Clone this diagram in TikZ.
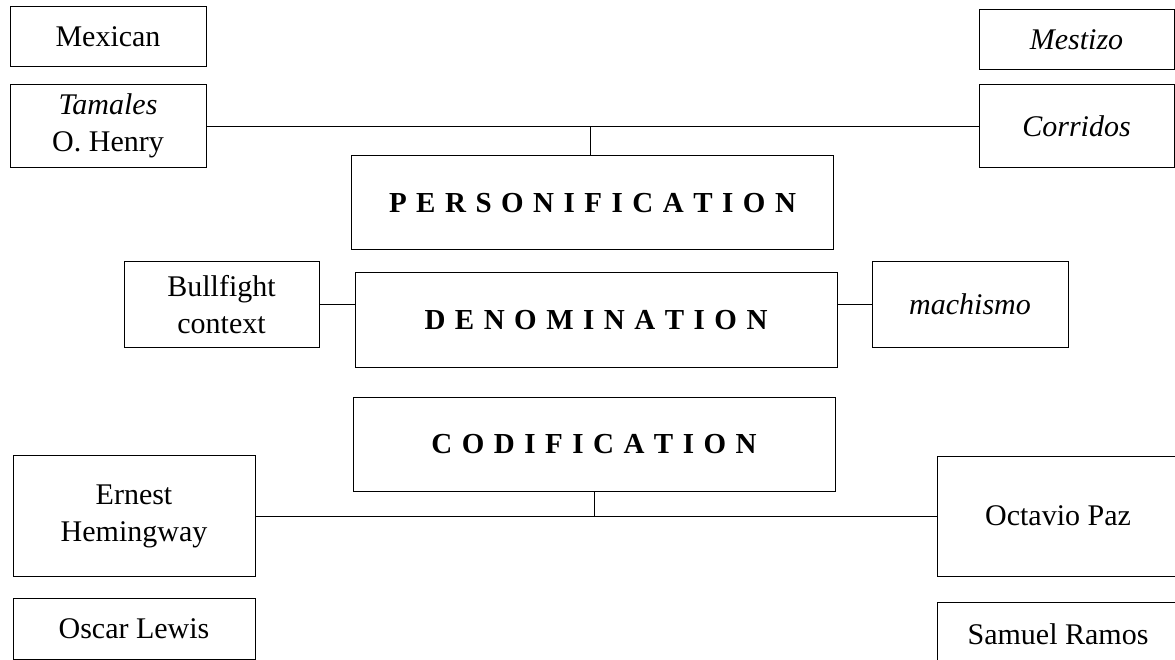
\documentclass[tikz,border=0pt]{standalone}
\usepackage{fontspec}
\setmainfont{Liberation Serif}
\newcommand{\widecaps}{\spaceskip 9.5pt\relax}
\begin{document}
\begin{tikzpicture}[x=1pt,y=-1pt]

      \useasboundingbox (0,0) rectangle (1175,660);

      \begin{scope}[every node/.style={rectangle,draw,line width=1pt,inner sep=0pt,align=center,
          font=\fontsize{30}{37}\selectfont}]
        \node[minimum width=196pt,minimum height=60pt] (mexican)  at (108,37)    {Mexican};
        \node[minimum width=196pt,minimum height=83pt] (tamales)  at (108,126)   {\textit{Tamales}\\O. Henry};
        \node[minimum width=195pt,minimum height=60pt] (mestizo)  at (1076.5,40) {\textit{Mestizo}};
        \node[minimum width=195pt,minimum height=83pt] (corridos) at (1076.5,126) {\textit{Corridos}};
        \node[minimum width=195pt,minimum height=85pt] (bull)     at (221.5,304.5) {Bullfight\\context};
        \node[minimum width=196pt,minimum height=85pt] (machismo) at (970,304.5) {\textit{machismo}};
        \node[minimum width=242pt,minimum height=121pt] (ernest)  at (134,516)   {Ernest\\Hemingway};
        \node[minimum width=242pt,minimum height=120pt] (octavio) at (1058,516)  {Octavio Paz};
        \node[minimum width=242pt,minimum height=61pt] (oscar)    at (134,628.5) {Oscar Lewis};
        \node[minimum width=242pt,minimum height=64pt] (samuel)   at (1058,634)  {Samuel Ramos};
      \end{scope}

      \begin{scope}[every node/.style={rectangle,draw,line width=1pt,inner sep=0pt,
          minimum width=482pt,minimum height=94pt,
          font=\fontsize{29}{35}\selectfont\bfseries}]
        \node (person) at (592.5,203) {\widecaps P E R S O N I F I C A T I O N};
        \node (denom)  at (596,320)   {\widecaps D E N O M I N A T I O N};
        \node (codif)  at (594,444)   {\widecaps C O D I F I C A T I O N};
      \end{scope}

      \begin{scope}[every edge/.style={draw,line width=0.8pt}]
        \path (tamales.east)  edge (corridos.west);
        \path ([xshift=-2.5pt]person.north) edge ([xshift=-2.5pt]person.north |- tamales.east);
        \path (bull.east)     edge (bull.east -| denom.west);
        \path (machismo.west) edge (machismo.west -| denom.east);
        \path (ernest.east)   edge (octavio.west);
        \path (codif.south)   edge (codif.south |- ernest.east);
      \end{scope}

    \end{tikzpicture}
\end{document}
